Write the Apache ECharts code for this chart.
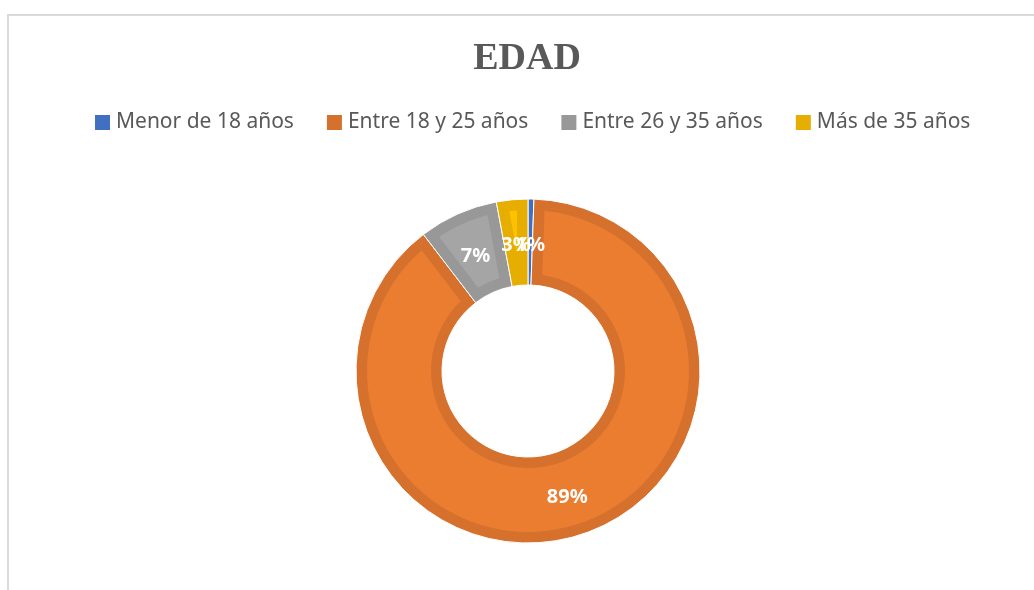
<!DOCTYPE html>
<html>
<head>
<meta charset="utf-8">
<script src="https://cdn.jsdelivr.net/npm/echarts@6/dist/echarts.min.js"></script>
<style>
  html, body { margin: 0; padding: 0; background: #fff; }
  #chart { width: 1034px; height: 590px; }
</style>
</head>
<body>
<div id="chart"></div>
<script>
// datos (porcentaje por grupo de edad)
const categories = ['Menor de 18 años', 'Entre 18 y 25 años', 'Entre 26 y 35 años', 'Más de 35 años'];
const values = [0.55, 89.05, 7.45, 2.95];
const darkColors = ['#4270C0', '#D6712D', '#989898', '#E6AE00'];
const lightColors = ['#4472C4', '#EB7D31', '#A5A5A5', '#FFC000'];

const CX = 528;
const CY = 371;
const R_IN = 86;
const R_OUT = 172;
const INSET = 11; // grosor del borde oscuro de cada porción

const chart = echarts.init(document.getElementById('chart'));

// relleno claro de cada porción, metido INSET px hacia dentro (como el contorno de Excel),
// y la etiqueta de porcentaje en el centro de la porción
function renderInner(params, api) {
  const i = params.dataIndex;
  const sum = values.reduce((a, b) => a + b, 0);
  let before = 0;
  for (let k = 0; k < i; k++) before += values[k];
  const v = api.value(0);
  const a0 = before / sum * Math.PI * 2;
  const a1 = (before + v) / sum * Math.PI * 2;
  const pt = (r, a) => [CX + r * Math.sin(a), CY - r * Math.cos(a)];

  const children = [];
  const rIn = R_IN + INSET;
  const rOut = R_OUT - INSET;
  const half = (a1 - a0) / 2;
  const rMin = half >= Math.PI / 2 ? 0 : INSET / Math.sin(half);
  const r0 = Math.max(rIn, rMin);
  if (r0 < rOut) {
    const off = (r) => Math.asin(Math.min(1, INSET / r));
    const pts = [];
    const n = 80;
    for (let s = 0; s <= n; s++) {
      pts.push(pt(rOut, a0 + off(rOut) + (a1 - a0 - 2 * off(rOut)) * s / n));
    }
    for (let s = 1; s <= 20; s++) {
      const r = rOut + (r0 - rOut) * s / 20;
      pts.push(pt(r, a1 - off(r)));
    }
    for (let s = 1; s < n; s++) {
      pts.push(pt(r0, a1 - off(r0) - (a1 - a0 - 2 * off(r0)) * s / n));
    }
    for (let s = 0; s < 20; s++) {
      const r = r0 + (rOut - r0) * s / 20;
      pts.push(pt(r, a0 + off(r)));
    }
    children.push({
      type: 'polygon',
      z2: 1,
      shape: { points: pts },
      style: { fill: lightColors[i] },
    });
  }

  const mid = pt((R_IN + R_OUT) / 2, (a0 + a1) / 2);
  children.push({
    type: 'text',
    z2: 10,
    x: mid[0],
    y: mid[1] + 3,
    style: {
      text: Math.round(v / sum * 100) + '%',
      fill: '#fff',
      font: 'bold 20px "Noto Sans"',
      align: 'center',
      verticalAlign: 'middle',
    },
  });
  return { type: 'group', children };
}

const option = {
  backgroundColor: '#fff',
  title: {
    text: 'EDAD',
    left: 522,
    textAlign: 'center',
    top: 35,
    textStyle: {
      fontFamily: 'Liberation Serif',
      fontWeight: 'bold',
      fontSize: 38,
      color: '#595959',
    },
  },
  legend: {
    left: 88,
    top: 107,
    itemWidth: 17,
    itemHeight: 17,
    itemGap: 31,
    icon: 'rect',
    data: categories,
    textStyle: {
      fontFamily: 'Noto Sans',
      fontSize: 21,
      color: '#595959',
    },
  },
  graphic: [
    {
      type: 'polyline',
      shape: { points: [[8, 600], [8, 15], [1040, 15]] },
      style: { stroke: '#D9D9D9', lineWidth: 2, fill: null },
      silent: true,
    },
  ],
  series: [
    {
      name: 'EDAD',
      type: 'pie',
      center: [CX, CY],
      radius: [R_IN, R_OUT],
      startAngle: 90,
      clockwise: true,
      itemStyle: { borderColor: '#fff', borderWidth: 1 },
      label: { show: false },
      labelLine: { show: false },
      emphasis: { disabled: true },
      data: categories.map((name, i) => ({
        name,
        value: values[i],
        itemStyle: { color: darkColors[i] },
      })),
      z: 1,
    },
    {
      name: 'relleno',
      type: 'custom',
      coordinateSystem: 'none',
      silent: true,
      renderItem: renderInner,
      data: values,
      z: 2,
    },
  ],
};

chart.setOption(option);
</script>
</body>
</html>
